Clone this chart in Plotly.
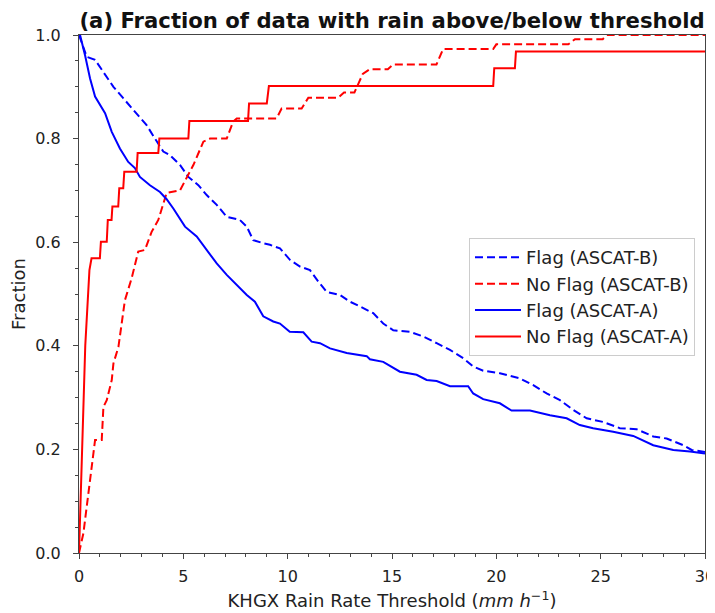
import plotly.graph_objects as go

# No Flag (ASCAT-A): red solid
nfa_x = [0, 0.2, 0.3, 0.5, 0.6, 1.0, 1.05, 1.33, 1.38, 1.56, 1.6, 1.88, 1.93, 2.12, 2.17, 2.76, 2.81,
         3.8, 3.85, 5.24, 5.29, 8.1, 8.15, 9.0, 9.1, 19.85, 19.9, 20.89, 20.94, 30]
nfa_y = [0, 0.30, 0.40, 0.546, 0.569, 0.569, 0.601, 0.601, 0.643, 0.643, 0.669, 0.669, 0.704, 0.704,
         0.736, 0.736, 0.772, 0.772, 0.80, 0.80, 0.834, 0.834, 0.868, 0.868, 0.9015, 0.9015, 0.936,
         0.936, 0.968, 0.968]

# No Flag (ASCAT-B): red dashed
nfb_x = [0, 0.21, 0.77, 1.09, 1.17, 1.33, 1.57, 1.65, 1.89, 2.2, 2.52, 2.84, 3.16, 3.48, 3.8, 4.2,
         4.84, 5.16, 5.48, 5.96, 6.28, 7.08, 7.39, 7.56, 9.47, 9.71, 10.67, 10.99, 12.42, 12.7, 13.2,
         13.6, 13.94, 14.8, 15.06, 17.13, 17.45, 19.85, 20.0, 23.45, 23.77, 25.1, 25.3, 30]
nfb_y = [0, 0.038, 0.218, 0.218, 0.282, 0.295, 0.334, 0.366, 0.398, 0.488, 0.530, 0.582, 0.585,
         0.62, 0.643, 0.695, 0.70, 0.726, 0.749, 0.794, 0.80, 0.80, 0.833, 0.839, 0.839, 0.858,
         0.858, 0.879, 0.879, 0.889, 0.889, 0.925, 0.934, 0.934, 0.943, 0.943, 0.973, 0.973, 0.982,
         0.982, 0.992, 0.992, 1.0, 1.0]

# Flag (ASCAT-A): blue solid
fa_x = [0, 0.05, 0.29, 0.53, 0.77, 1.09, 1.25, 1.57, 1.96, 2.36, 2.68, 2.92, 3.4, 3.88, 4.2, 4.52,
        4.84, 5.08, 5.64, 6.12, 6.6, 7.08, 7.56, 8.04, 8.43, 8.83, 9.31, 9.63, 10.1, 10.75, 11.15,
        11.55, 12.03, 12.83, 13.79, 13.94, 14.58, 15.38, 16.18, 16.66, 17.14, 17.78, 18.65, 18.89,
        19.37, 20.17, 20.73, 21.61, 22.57, 23.37, 24.0, 24.64, 25.6, 26.56, 27.52, 28.48, 29.28, 30]
fa_y = [1.0, 1.0, 0.961, 0.916, 0.881, 0.858, 0.849, 0.813, 0.781, 0.755, 0.743, 0.726, 0.710,
        0.697, 0.683, 0.665, 0.645, 0.63, 0.611, 0.585, 0.559, 0.537, 0.517, 0.498, 0.485, 0.457,
        0.447, 0.443, 0.427, 0.426, 0.408, 0.405, 0.395, 0.386, 0.380, 0.374, 0.369, 0.350, 0.344,
        0.334, 0.332, 0.322, 0.322, 0.308, 0.297, 0.289, 0.275, 0.275, 0.266, 0.26, 0.247, 0.241,
        0.234, 0.226, 0.208, 0.199, 0.196, 0.192]

# Flag (ASCAT-B): blue dashed
fb_x = [0, 0.37, 0.77, 1.17, 1.65, 2.12, 2.76, 3.24, 3.64, 4.04, 4.36, 4.84, 5.24, 5.72, 6.12, 6.6,
        7.08, 7.71, 8.04, 8.35, 8.83, 9.15, 9.63, 10.11, 10.59, 11.07, 11.47, 11.87, 12.51, 12.99,
        13.46, 14.1, 14.58, 15.06, 15.86, 16.5, 17.14, 17.78, 18.42, 18.89, 19.37, 20.17, 21.13,
        21.77, 22.41, 23.05, 23.69, 24.33, 25.12, 25.92, 26.72, 27.52, 28.16, 28.96, 29.36, 30]
fb_y = [1.0, 0.958, 0.952, 0.929, 0.90, 0.878, 0.849, 0.826, 0.80, 0.775, 0.768, 0.749, 0.726,
        0.710, 0.691, 0.672, 0.649, 0.643, 0.63, 0.604, 0.598, 0.595, 0.588, 0.566, 0.553, 0.546,
        0.524, 0.504, 0.498, 0.485, 0.476, 0.463, 0.443, 0.430, 0.427, 0.418, 0.405, 0.392, 0.376,
        0.360, 0.352, 0.347, 0.337, 0.324, 0.308, 0.295, 0.276, 0.26, 0.253, 0.241, 0.239, 0.225,
        0.221, 0.208, 0.199, 0.195]

x_ticks = [0, 5, 10, 15, 20, 25, 30]
y_ticks = [0, 0.2, 0.4, 0.6, 0.8, 1.0]

BLUE = "#0000ff"
RED = "#ff0000"
DASH = "8px,4px"
FONT = "DejaVu Sans"
FS = 18      # axis titles and legend
TFS = 16     # tick labels

series = [
    ("Flag (ASCAT-B)", fb_x, fb_y, BLUE, DASH),
    ("No Flag (ASCAT-B)", nfb_x, nfb_y, RED, DASH),
    ("Flag (ASCAT-A)", fa_x, fa_y, BLUE, "solid"),
    ("No Flag (ASCAT-A)", nfa_x, nfa_y, RED, "solid"),
]

fig = go.Figure()
for name, xs, ys, col, dash in series:
    fig.add_trace(go.Scatter(x=xs, y=ys, mode="lines", name=name,
                             line=dict(color=col, width=2, dash=dash)))

axis_common = dict(showline=True, linecolor="#444", linewidth=1, mirror=True, ticks="outside",
                   ticklen=5, tickcolor="#444", showgrid=False, zeroline=False, automargin=False,
                   ticklabeloverflow="allow",
                   tickfont=dict(family=FONT, size=TFS, color="#222"))

# page body has an 8px margin, so the figure is 8px smaller and its margins shifted
W, H = 707, 605
fig.update_layout(
    width=W, height=H,
    margin=dict(l=71, r=10, t=27, b=60),
    paper_bgcolor="white", plot_bgcolor="white",
    font=dict(family=FONT, color="#222"),
    title=dict(text="<b>(a) Fraction of data with rain above/below threshold</b>",
               x=(71 + 697) / 2 / W, xref="container", xanchor="center",
               y=1 - 13 / H, yref="container", yanchor="middle", automargin=False,
               font=dict(family=FONT, size=21.2, color="#111")),
    xaxis=dict(range=[0, 30], tickvals=x_ticks, ticklabelstandoff=4,
               minor=dict(dtick=1, ticklen=3, ticks="outside", tickcolor="#444"),
               title=dict(text="KHGX Rain Rate Threshold (<i>mm h</i><sup>−1</sup>)", standoff=9,
                          font=dict(family=FONT, size=FS, color="#222")),
               **axis_common),
    yaxis=dict(range=[0, 1], tickvals=y_ticks, tickformat=".1f", ticklabelstandoff=9,
               minor=dict(dtick=0.05, ticklen=3, ticks="outside", tickcolor="#444"),
               title=dict(text="Fraction", standoff=6, font=dict(family=FONT, size=FS, color="#222")),
               **axis_common),
    legend=dict(x=0.623, y=0.608, xanchor="left", yanchor="top", bgcolor="rgba(255,255,255,0.8)",
                bordercolor="#cccccc", borderwidth=1, traceorder="normal", itemwidth=46,
                font=dict(family=FONT, size=FS, color="#222")),
)

fig.write_html("out.html")
